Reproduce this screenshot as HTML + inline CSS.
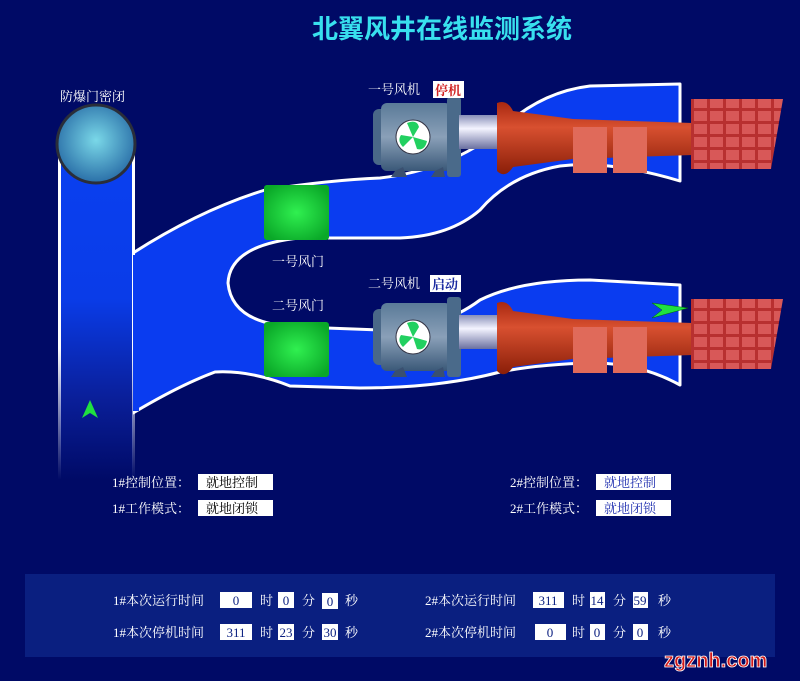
<!DOCTYPE html>
<html><head><meta charset="utf-8"><style>
html,body{margin:0;padding:0;background:#000a66;}
svg{display:block}
text{font-family:"Liberation Serif","Noto Serif CJK SC","Noto Sans CJK SC",serif;}
.sans{font-family:"Liberation Sans","Noto Sans CJK SC",sans-serif;}
</style></head><body>
<svg width="800" height="681" viewBox="0 0 800 681" xmlns="http://www.w3.org/2000/svg">
<defs>
<linearGradient id="shaft" x1="0" y1="0" x2="0" y2="1">
<stop offset="0" stop-color="#0a40f0"/><stop offset="0.45" stop-color="#0a3ce8"/><stop offset="0.75" stop-color="#0a1f9a"/><stop offset="1" stop-color="#000a66"/></linearGradient>
<linearGradient id="shaftEdge" x1="0" y1="0" x2="0" y2="1">
<stop offset="0" stop-color="#fff"/><stop offset="0.6" stop-color="#fff"/><stop offset="1" stop-color="#fff" stop-opacity="0"/></linearGradient>
<radialGradient id="ball" cx="0.5" cy="0.45" r="0.55"><stop offset="0" stop-color="#7ad8e8"/><stop offset="1" stop-color="#2a6fa8"/></radialGradient>
<radialGradient id="valve" cx="0.5" cy="0.5" r="0.6"><stop offset="0" stop-color="#30f050"/><stop offset="1" stop-color="#0aa828"/></radialGradient>
<linearGradient id="motor" x1="0" y1="0" x2="0" y2="1"><stop offset="0" stop-color="#5a7a98"/><stop offset="0.5" stop-color="#8aa0b8"/><stop offset="1" stop-color="#3a5878"/></linearGradient>
<linearGradient id="pipe" x1="0" y1="0" x2="0" y2="1"><stop offset="0" stop-color="#8890b8"/><stop offset="0.4" stop-color="#f4f4ff"/><stop offset="1" stop-color="#6a70a0"/></linearGradient>
<linearGradient id="red" x1="0" y1="0" x2="0" y2="1"><stop offset="0" stop-color="#a82810"/><stop offset="0.35" stop-color="#d85030"/><stop offset="1" stop-color="#8a1e08"/></linearGradient>
<pattern id="grid" width="16" height="13" patternUnits="userSpaceOnUse"><rect width="16" height="13" fill="#b83030"/><rect x="1" y="1" width="13" height="10" fill="#d85858"/></pattern>
<g id="fan">
<rect x="0" y="12" width="15" height="56" rx="6" fill="#4a6888"/>
<rect x="8" y="6" width="70" height="68" rx="6" fill="url(#motor)"/>
<rect x="74" y="0" width="14" height="80" rx="3" fill="#4a6a8a"/>
<polygon points="22,74 30,70 34,80 18,80" fill="#3a5070"/>
<polygon points="62,74 70,70 72,80 58,80" fill="#3a5070"/>
<circle cx="40" cy="40" r="17" fill="#fff" stroke="#334" stroke-width="1"/>
<g fill="#22d060">
<path d="M40 40 L34 26 Q44 22 46 30 Z"/>
<path d="M40 40 L54 44 Q52 54 44 52 Z"/>
<path d="M40 40 L30 50 Q24 44 28 38 Z"/>
</g>
<rect x="86" y="18" width="42" height="34" fill="url(#pipe)"/>
<path d="M124 6 Q134 2 140 14 L200 22 L320 26 L320 58 L200 62 L140 70 Q132 82 124 74 Z" fill="url(#red)"/>
<rect x="200" y="30" width="34" height="46" fill="#e06a5a"/>
<rect x="240" y="30" width="34" height="46" fill="#e06a5a"/>
<polygon points="318,2 410,2 398,72 318,72" fill="url(#grid)"/>
</g>
</defs>

<text x="442" y="38" text-anchor="middle" font-size="26" font-weight="bold" fill="#38e0ee" class="sans">北翼风井在线监测系统</text>

<path d="M133 253 Q200 210 265 190 Q330 180 380 178 Q450 170 500 130 Q540 92 590 86 L680 84 L680 181 Q610 160 560 166 Q510 175 480 210 Q450 236 400 238 L300 238 Q230 245 228 283 Q232 325 300 327 L380 330 Q440 330 480 300 Q520 280 590 280 L680 285 L680 385 Q640 363 593 363 Q540 364 500 372 Q440 388 360 388 L290 386 Q250 370 215 372 Q180 385 133 413 Z" fill="#0a3cf0" stroke="#fff" stroke-width="3" stroke-linejoin="round"/>
<rect x="60" y="150" width="73" height="330" fill="url(#shaft)"/>
<rect x="58" y="150" width="3" height="330" fill="url(#shaftEdge)"/>
<rect x="132" y="150" width="3" height="330" fill="url(#shaftEdge)"/>
<rect x="133" y="255" width="6" height="156" fill="#0a3cf0"/>
<circle cx="96" cy="144" r="39" fill="url(#ball)" stroke="#2a2e3a" stroke-width="3"/>
<polygon points="90,400 82,418 90,413 98,418" fill="#20e040"/>

<rect x="264" y="185" width="65" height="55" rx="3" fill="url(#valve)"/>
<rect x="264" y="322" width="65" height="55" rx="3" fill="url(#valve)"/>

<use href="#fan" x="373" y="97"/>
<use href="#fan" x="373" y="297"/>
<polygon points="652,303 688,308 652,318 662,310" fill="#20e040" stroke="#060" stroke-width="0.5"/>

<g font-size="13" fill="#fff">
<text x="60" y="101">防爆门密闭</text>
<text x="368" y="94">一号风机</text>
<text x="368" y="288">二号风机</text>
<text x="272" y="266">一号风门</text>
<text x="272" y="310">二号风门</text>
</g>
<rect x="433" y="81" width="31" height="17" fill="#fff"/><text x="435" y="95" font-size="13" font-weight="bold" fill="#d02020">停机</text>
<rect x="430" y="275" width="31" height="17" fill="#fff"/><text x="432" y="289" font-size="13" font-weight="bold" fill="#1a2aa0">启动</text>

<g font-size="13" fill="#fff">
<text x="112" y="487">1#控制位置：</text>
<text x="112" y="513">1#工作模式：</text>
<text x="510" y="487">2#控制位置：</text>
<text x="510" y="513">2#工作模式：</text>
</g>
<rect x="198" y="474" width="75" height="16" fill="#fff"/><text x="206" y="487" font-size="13" fill="#000">就地控制</text>
<rect x="198" y="500" width="75" height="16" fill="#fff"/><text x="206" y="513" font-size="13" fill="#000">就地闭锁</text>
<rect x="596" y="474" width="75" height="16" fill="#fff"/><text x="604" y="487" font-size="13" fill="#2030b0">就地控制</text>
<rect x="596" y="500" width="75" height="16" fill="#fff"/><text x="604" y="513" font-size="13" fill="#2030b0">就地闭锁</text>

<rect x="25" y="574" width="750" height="83" fill="#0a1f80"/>
<g font-size="13" fill="#fff">
<text x="113" y="605">1#本次运行时间</text><text x="260" y="605">时</text><text x="302" y="605">分</text><text x="345" y="605">秒</text>
<text x="113" y="637">1#本次停机时间</text><text x="260" y="637">时</text><text x="302" y="637">分</text><text x="345" y="637">秒</text>
<text x="425" y="605">2#本次运行时间</text><text x="572" y="605">时</text><text x="613" y="605">分</text><text x="658" y="605">秒</text>
<text x="425" y="637">2#本次停机时间</text><text x="572" y="637">时</text><text x="613" y="637">分</text><text x="658" y="637">秒</text>
</g>
<g fill="#fff">
<rect x="220" y="592" width="32" height="16"/><rect x="278" y="592" width="16" height="16"/><rect x="322" y="593" width="16" height="16"/>
<rect x="220" y="624" width="32" height="16"/><rect x="278" y="624" width="16" height="16"/><rect x="322" y="624" width="16" height="16"/>
<rect x="533" y="592" width="31" height="16"/><rect x="590" y="592" width="15" height="16"/><rect x="633" y="592" width="15" height="16"/>
<rect x="535" y="624" width="31" height="16"/><rect x="590" y="624" width="15" height="16"/><rect x="633" y="624" width="15" height="16"/>
</g>
<g font-size="13" fill="#0a1f80" text-anchor="middle">
<text x="236" y="605">0</text><text x="286" y="605">0</text><text x="330" y="606">0</text>
<text x="236" y="637">311</text><text x="286" y="637">23</text><text x="330" y="637">30</text>
<text x="548" y="605">311</text><text x="597" y="605">14</text><text x="640" y="605">59</text>
<text x="550" y="637">0</text><text x="597" y="637">0</text><text x="640" y="637">0</text>
</g>
<text x="664" y="667" font-size="20" font-weight="bold" fill="#d01818" stroke="#fff" stroke-width="0.8" class="sans">zgznh.com</text>
</svg>
</body></html>
